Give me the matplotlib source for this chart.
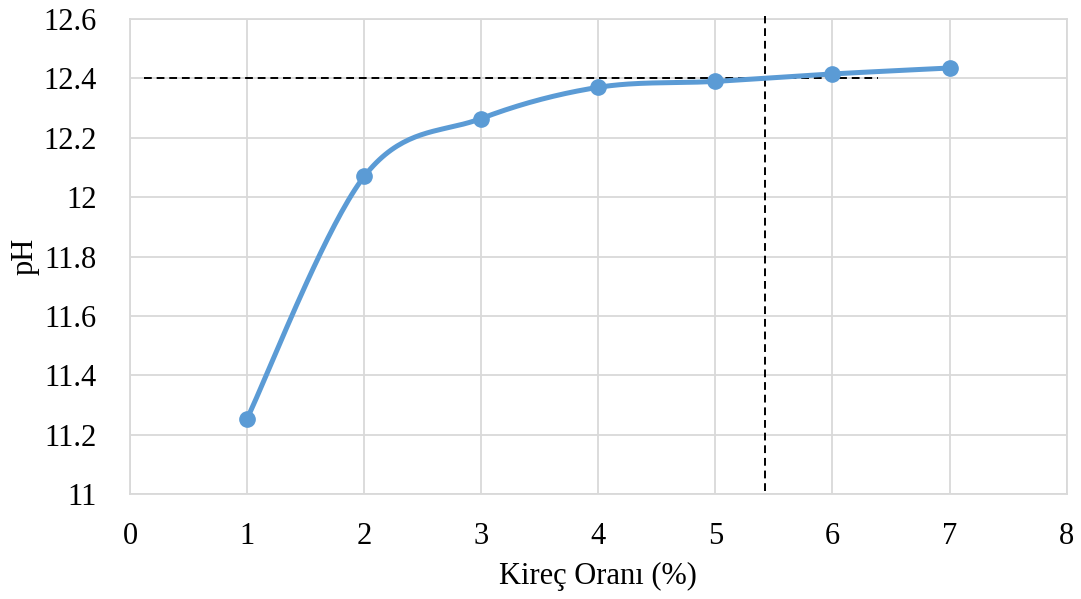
import numpy as np
import matplotlib
matplotlib.use("Agg")
from matplotlib import pyplot as plt
from matplotlib.ticker import FuncFormatter

plt.rcParams['font.family'] = ['Liberation Serif', 'DejaVu Serif']

# Data
lime_ratio = [1, 2, 3, 4, 5, 6, 7]
ph_values = [11.255, 12.07, 12.265, 12.37, 12.39, 12.415, 12.435]
# reference dashed lines
ph_target = 12.4
lime_target = 5.42
hline_x = [0.12, 6.39]
vline_y = [11.01, 12.61]

x_ticks = [0, 1, 2, 3, 4, 5, 6, 7, 8]
y_ticks = [11, 11.2, 11.4, 11.6, 11.8, 12, 12.2, 12.4, 12.6]


def smooth(xs, ys, n=40):
    # Catmull-Rom style smoothing like the spreadsheet "smoothed line"
    xs = np.asarray(xs, float)
    ys = np.asarray(ys, float)
    px = np.concatenate([[xs[0]], xs, [xs[-1]]])
    py = np.concatenate([[ys[0]], ys, [ys[-1]]])
    outx, outy = [], []
    t = np.linspace(0, 1, n)
    for i in range(1, len(px) - 2):
        p0 = np.array([px[i], py[i]])
        p3 = np.array([px[i + 1], py[i + 1]])
        c1 = p0 + (np.array([px[i + 1], py[i + 1]]) - np.array([px[i - 1], py[i - 1]])) / 6
        c2 = p3 - (np.array([px[i + 2], py[i + 2]]) - np.array([px[i], py[i]])) / 6
        b = ((1 - t) ** 3)[:, None] * p0 + (3 * (1 - t) ** 2 * t)[:, None] * c1 \
            + (3 * (1 - t) * t ** 2)[:, None] * c2 + (t ** 3)[:, None] * p3
        outx.extend(b[:, 0])
        outy.extend(b[:, 1])
    return outx, outy


fig = plt.figure(figsize=(10.81, 5.99), dpi=100)
ax = fig.add_axes([0.1203, 0.1748, 0.8664, 0.7935])

blue = '#5B9BD5'
sx, sy = smooth(lime_ratio, ph_values)
ax.plot(sx, sy, color=blue, lw=3.6, solid_capstyle='round', zorder=4)
ax.plot(lime_ratio, ph_values, 'o', color=blue, ms=11, zorder=5)

# dashed guide lines
ax.plot(hline_x, [ph_target, ph_target], color='black', lw=1.4,
        dashes=(4, 2.5), zorder=3)
ax.plot([lime_target, lime_target], vline_y, color='black', lw=1.4,
        dashes=(4, 2.5), zorder=3, clip_on=False)

ax.set_xlim(0, 8)
ax.set_ylim(11, 12.6)
ax.set_xticks(x_ticks)
ax.set_yticks(y_ticks)
ax.yaxis.set_major_formatter(FuncFormatter(lambda v, p: '%g' % round(v, 1)))
ax.grid(True, color='#D9D9D9', lw=1.3)
ax.set_axisbelow(True)
for s in ax.spines.values():
    s.set_color('#D9D9D9')
    s.set_linewidth(1.3)
ax.tick_params(length=0, labelsize=22, pad=20)
ax.tick_params(axis='y', pad=24)

ax.set_xlabel('Kireç Oranı (%)', fontsize=22, labelpad=8)
ax.set_ylabel('pH', fontsize=22)
ax.yaxis.set_label_coords(-0.097, 0.5)

fig.savefig('out.png', dpi=100)
